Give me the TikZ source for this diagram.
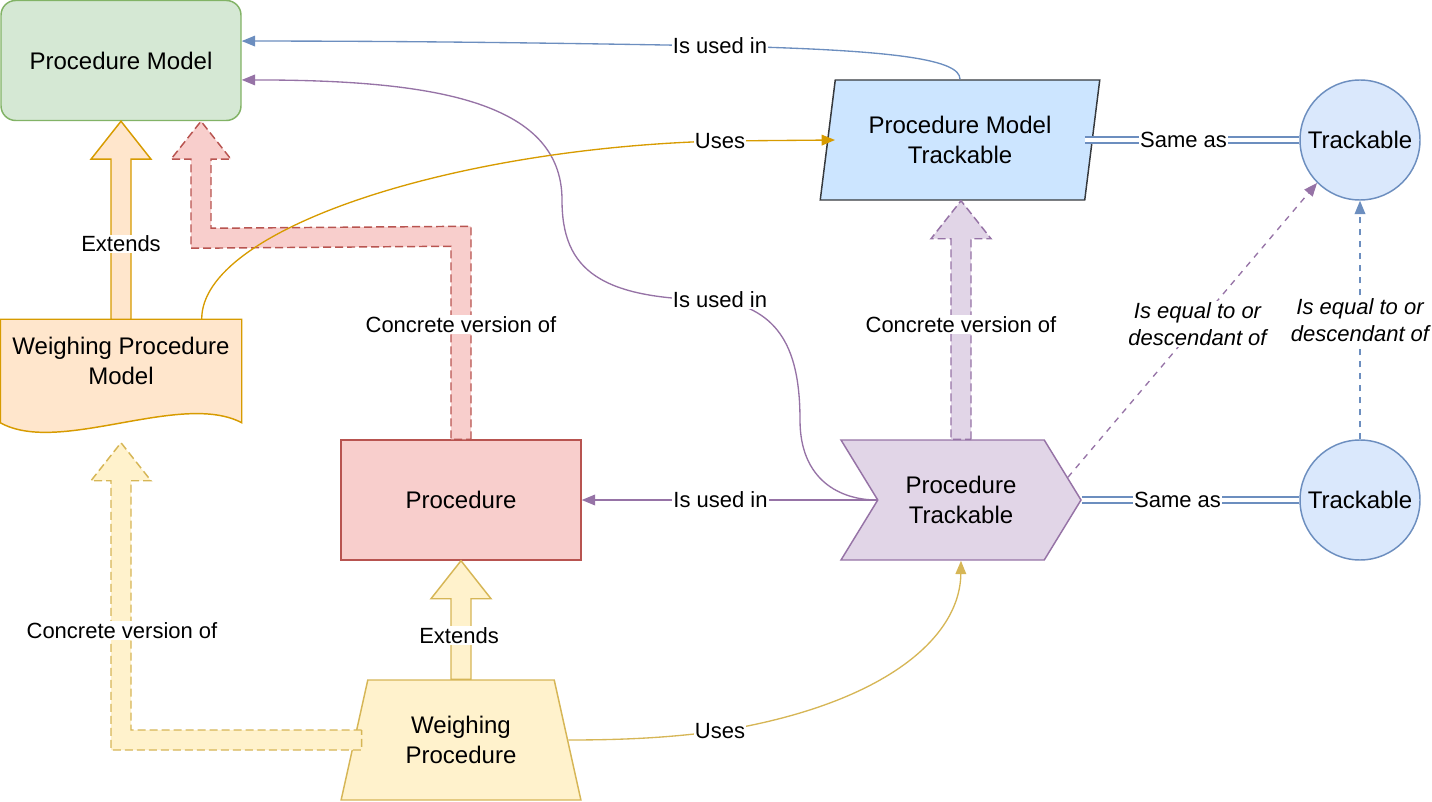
\documentclass[tikz,border=0pt]{standalone}
\usepackage{fontspec}
\setmainfont{Liberation Sans}
\usetikzlibrary{shapes.geometric,shapes.symbols,arrows.meta,calc}

\definecolor{pmfill}{HTML}{D5E8D4}
\definecolor{pmline}{HTML}{82B366}
\definecolor{wpmfill}{HTML}{FFE6CC}
\definecolor{wpmline}{HTML}{D79B00}
\definecolor{procfill}{HTML}{F8CECC}
\definecolor{procline}{HTML}{B85450}
\definecolor{wpfill}{HTML}{FFF2CC}
\definecolor{wpline}{HTML}{D6B656}
\definecolor{pmtfill}{HTML}{CCE5FF}
\definecolor{pmtline}{HTML}{36393D}
\definecolor{trfill}{HTML}{DAE8FC}
\definecolor{trline}{HTML}{6C8EBF}
\definecolor{ptfill}{HTML}{E1D5E7}
\definecolor{ptline}{HTML}{9673A6}

\tikzset{
  box/.style={draw, line width=1.1pt, minimum width=180pt, minimum height=90pt,
    inner sep=0pt, align=center, font=\fontsize{18}{22.5}\selectfont},
  lbl/.style={fill=white, inner sep=1pt, align=center, text=black,
    font=\fontsize{16.5}{20}\selectfont},
  arr/.style={line width=1pt, -{Triangle[length=10pt,width=8pt]}},
  dasharr/.style={arr, dash pattern=on 4.5pt off 4.5pt},
  same/.style={line width=1pt, draw=trline, double=white, double distance=3.5pt},
  blockarrow/.style={line width=1.1pt},
  blockdash/.style={line width=1.1pt, dash pattern=on 6pt off 3pt},
}

\begin{document}
\begin{tikzpicture}[x=0.75pt,y=0.75pt,yscale=-1,xscale=1]
\useasboundingbox (0,0) rectangle (1432,802);

% shapes
\node[box, rounded corners=11pt, fill=pmfill, draw=pmline] (pm) at (121,60.5) {Procedure Model};

\node[box, draw=none] (wpm) at (121,380) {};
\draw[line width=1.1pt, draw=wpmline, fill=wpmfill] (wpm.north west) -- (wpm.north east) -- ($(wpm.south east)+(0,-18)$) .. controls ($(wpm.south east)+(-61,-50)$) and ($(wpm.south west)+(59,15)$) .. ($(wpm.south west)+(0,-18)$) -- cycle;
\node[align=center, font=\fontsize{18}{22.5}\selectfont] (wpmtext) at ($(wpm.north)+(0,42)$) {Weighing Procedure\\Model};

\node[box, fill=procfill, draw=procline] (proc) at (461,500) {Procedure};

\node[box, trapezium, trapezium stretches=true, trapezium left angle=71.6, trapezium right angle=71.6, fill=wpfill, draw=wpline] (wp) at (461,740) {Weighing\\Procedure};

\node[box, trapezium, trapezium stretches=true, trapezium left angle=77, trapezium right angle=103, minimum width=210pt, fill=pmtfill, draw=pmtline] (pmt) at (960,140) {Procedure Model\\Trackable};

\node[box, signal, signal to=east, signal from=west, signal pointer angle=117, fill=ptfill, draw=ptline] (pt) at (961,500) {Procedure\\Trackable};

\node[box, circle, minimum size=90pt, fill=trfill, draw=trline] (tr1) at (1360,140) {Trackable};
\node[box, circle, minimum size=90pt, fill=trfill, draw=trline] (tr2) at (1360,500) {Trackable};

% block arrows
\draw[blockarrow, draw=wpmline, fill=wpmfill] ($(wpm.north)+(-10,0)$) -- ($(pm.south)+(-10,38)$) -- ($(pm.south)+(-30,38)$) -- (pm.south) -- ($(pm.south)+(30,38)$) -- ($(pm.south)+(10,38)$) -- ($(wpm.north)+(10,0)$) -- cycle;
\node[lbl] (ext1) at ($(wpm.north)!0.38!(pm.south)$) {Extends};

\coordinate (redtip) at ($(pm.south)+(80,0)$);
\draw[blockdash, draw=procline, fill=procfill] ($(proc.north)+(10,0)$) -- ($(proc.north)+(10,-213)$) -- ($(redtip)+(10,107)$) -- ($(redtip)+(10,38)$) -- ($(redtip)+(30,38)$) -- (redtip) -- ($(redtip)+(-30,38)$) -- ($(redtip)+(-10,38)$) -- ($(redtip)+(-10,127)$) -- ($(proc.north)+(-10,-193)$) -- ($(proc.north)+(-10,0)$) -- cycle;
\node[lbl] (conc1) at ($(proc.north)+(0,-115)$) {Concrete version of};

\coordinate (purtip) at (pt.north |- pmt.south);
\draw[blockdash, draw=ptline, fill=ptfill] ($(pt.north)+(10,0)$) -- ($(purtip)+(10,38)$) -- ($(purtip)+(30,38)$) -- (purtip) -- ($(purtip)+(-30,38)$) -- ($(purtip)+(-10,38)$) -- ($(pt.north)+(-10,0)$) -- cycle;
\node[lbl] (conc2) at ($(pt.north)+(0,-115)$) {Concrete version of};

\coordinate (yeltip) at ($(wpm.south)+(0,2)$);
\coordinate (yelbend) at (wpm.south |- wp.left side);
\draw[blockdash, draw=wpline, fill=wpfill] ($(wp.left side)+(8,-10)$) -- ($(yelbend)+(10,-10)$) -- ($(yeltip)+(10,38)$) -- ($(yeltip)+(30,38)$) -- (yeltip) -- ($(yeltip)+(-30,38)$) -- ($(yeltip)+(-10,38)$) -- ($(yelbend)+(-10,10)$) -- ($(wp.left side)+(8,10)$) -- cycle;
\node[lbl] (conc3) at ($(wpm.south)+(1,190)$) {Concrete version of};

\draw[blockarrow, draw=wpline, fill=wpfill] ($(wp.north)+(-10,0)$) -- ($(proc.south)+(-10,38)$) -- ($(proc.south)+(-30,38)$) -- (proc.south) -- ($(proc.south)+(30,38)$) -- ($(proc.south)+(10,38)$) -- ($(wp.north)+(10,0)$) -- cycle;
\node[lbl] (ext2) at ($(wp.north)+(-2,-44)$) {Extends};

% connectors
\draw[arr, draw=trline] (pmt.north) .. controls (960,60) and (900,50) .. (720,46) node[lbl] {Is used in} .. controls (560,43) and (400,41) .. ($(pm.north east)!0.34!(pm.south east)$);

\draw[arr, draw=ptline] (pt.west) .. controls (840,500) and (800,480) .. (800,420) .. controls (800,350) and (780,310) .. (720,300) node[lbl] {Is used in} .. controls (600,300) and (562,270) .. (562,200) .. controls (562,100) and (430,80) .. ($(pm.north east)!0.66!(pm.south east)$);

\draw[arr, draw=wpmline] ($(wpm.north east)+(-40,0)$) .. controls (201,230) and (450,148) .. (720,141) node[lbl] {Uses} -- ($(pmt.left side)+(8,0)$);

\draw[arr, draw=wpline] (wp.right side) .. controls (640,740) and (680,736) .. (720,731) node[lbl] {Uses} .. controls (880,705) and (960,640) .. (pt.south);

\draw[arr, draw=ptline] (pt.west) -- (proc.east) node[lbl, pos=0.53] {Is used in};

\draw[same] ($(pmt.right side)+(-8,0)$) -- (tr1.west) node[lbl, pos=0.46] {Same as};
\draw[same] (pt.east) -- (tr2.west) node[lbl, pos=0.44] {Same as};

\draw[dasharr, draw=ptline] (pt.12) -- (tr1.south west) node[lbl, pos=0.52, font=\fontsize{16.5}{20}\selectfont\itshape] {Is equal to or\\descendant of};
\draw[dasharr, draw=trline] (tr2.north) -- (tr1.south) node[lbl, pos=0.5, font=\fontsize{16.5}{20}\selectfont\itshape] {Is equal to or\\descendant of};

\end{tikzpicture}
\end{document}
